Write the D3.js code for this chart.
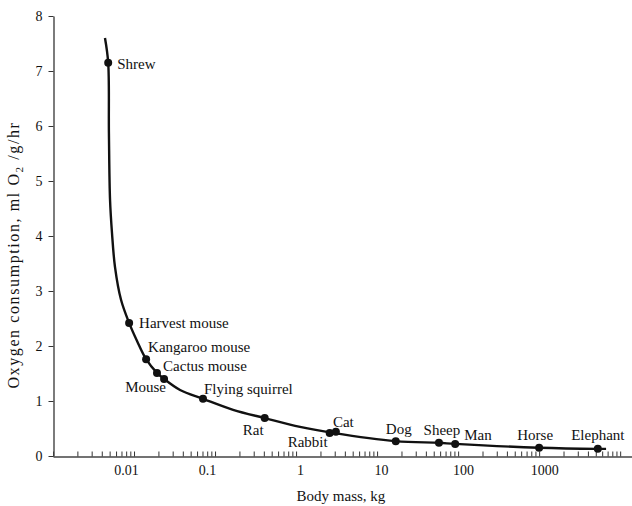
<!DOCTYPE html>
<html>
<head>
<meta charset="utf-8">
<script src="https://cdn.jsdelivr.net/npm/d3@7"></script>
<style>
  html, body { margin: 0; padding: 0; background: #fff; }
  svg { display: block; font-family: "Liberation Serif", "Times New Roman", serif; }
</style>
</head>
<body>
<svg id="chart" width="632" height="506"></svg>
<script>
// animals plotted as dots (mass in kg, O2 in ml/g/hr)
const animals = ['Shrew', 'Harvest mouse', 'Kangaroo mouse', 'Mouse', 'Cactus mouse',
  'Flying squirrel', 'Rat', 'Rabbit', 'Cat', 'Dog', 'Sheep', 'Man', 'Horse', 'Elephant'];
const animalMass = [0.0048, 0.0087, 0.0141, 0.0192, 0.0235, 0.071, 0.41, 2.6, 3.1, 17, 58, 92, 1000, 5300];
const animalO2 = [7.15, 2.42, 1.76, 1.51, 1.40, 1.04, 0.69, 0.42, 0.44, 0.27, 0.24, 0.22, 0.15, 0.13];

// the drawn curve
const curveMass = [0.00438, 0.0048, 0.0049, 0.00506, 0.00535, 0.00582, 0.00691, 0.0087, 0.0109,
  0.0141, 0.0192, 0.0235, 0.037, 0.071, 0.167, 0.41, 1.12, 2.86, 17, 58, 92, 1000, 5300, 6700];
const curveO2 = [7.6, 7.15, 5.87, 4.65, 4.05, 3.44, 2.84, 2.42, 2.09,
  1.76, 1.51, 1.40, 1.20, 1.04, 0.84, 0.69, 0.53, 0.42, 0.27, 0.24, 0.22, 0.15, 0.13, 0.13];

const massTicks = [0.01, 0.1, 1, 10, 100, 1000];
const massTickLabels = ['0.01', '0.1', '1', '10', '100', '1000'];
const o2Ticks = [0, 1, 2, 3, 4, 5, 6, 7, 8];

// small horizontal nudges of the decade labels, as printed
const tickLabelDx = [-8, -8, 4, 4, 5, 5];

// label placement relative to each dot
const labelLayout = {
  'Shrew':           { anchor: 'start',  dx: 9,  dy: 6 },
  'Harvest mouse':   { anchor: 'start',  dx: 10, dy: 5 },
  'Kangaroo mouse':  { anchor: 'start',  dx: 2,  dy: -7 },
  'Mouse':           { anchor: 'end',    dx: 9,  dy: 19 },
  'Cactus mouse':    { anchor: 'start',  dx: -1, dy: -8 },
  'Flying squirrel': { anchor: 'start',  dx: 1,  dy: -5 },
  'Rat':             { anchor: 'end',    dx: -1, dy: 17 },
  'Rabbit':          { anchor: 'end',    dx: -2, dy: 14 },
  'Cat':             { anchor: 'start',  dx: -3, dy: -5 },
  'Dog':             { anchor: 'middle', dx: 3,  dy: -7 },
  'Sheep':           { anchor: 'middle', dx: 3,  dy: -8 },
  'Man':             { anchor: 'start',  dx: 9,  dy: -4 },
  'Horse':           { anchor: 'middle', dx: -4, dy: -8 },
  'Elephant':        { anchor: 'middle', dx: 0,  dy: -9 }
};

const svg = d3.select('#chart');
const ink = '#111';

const x = d3.scaleLog().domain([0.001, 14000]).range([53, 632]);
const y = d3.scaleLinear().domain([0, 8]).range([456, 16]);

const decadeIndex = d => massTicks.findIndex(t => Math.abs(t - d) / t < 1e-6);

// x axis: minor ticks at every 1..9 multiple, labels only on decades
const xAxis = d3.axisBottom(x)
  .tickValues(x.ticks())
  .tickSizeInner(-5)
  .tickSizeOuter(0)
  .tickPadding(9)
  .tickFormat(d => {
    const i = decadeIndex(d);
    return i >= 0 ? massTickLabels[i] : '';
  });

const gx = svg.append('g')
  .attr('transform', 'translate(0,456.5)')
  .call(xAxis);
gx.select('.domain').attr('stroke', '#444').attr('stroke-width', 1.4);
gx.selectAll('.tick line').attr('stroke', '#333').attr('stroke-width', 1);
gx.selectAll('.tick text')
  .attr('fill', ink)
  .attr('dx', d => {
    const i = decadeIndex(d);
    return i >= 0 ? tickLabelDx[i] : 0;
  })
  .style('font-size', '14px')
  .style('font-family', '"Liberation Serif", serif');

const yAxis = d3.axisLeft(y)
  .tickValues(o2Ticks)
  .tickSizeInner(5)
  .tickSizeOuter(0)
  .tickPadding(6)
  .tickFormat(d3.format('d'));

const gy = svg.append('g')
  .attr('transform', 'translate(53.5,0)')
  .call(yAxis);
gy.select('.domain').attr('stroke', '#444').attr('stroke-width', 1.4);
gy.selectAll('.tick line').attr('stroke', '#333').attr('stroke-width', 1);
gy.selectAll('.tick text')
  .attr('fill', ink)
  .style('font-size', '14px')
  .style('font-family', '"Liberation Serif", serif');

// axis titles
svg.append('text')
  .attr('x', 341)
  .attr('y', 501)
  .attr('text-anchor', 'middle')
  .attr('fill', ink)
  .style('font-size', '15px')
  .text('Body mass, kg');

const yTitle = svg.append('text')
  .attr('transform', 'translate(19,255) rotate(-90)')
  .attr('text-anchor', 'middle')
  .attr('fill', ink)
  .style('font-size', '16px')
  .style('letter-spacing', '1.6px');
yTitle.append('tspan').text('Oxygen consumption, ml O');
yTitle.append('tspan').attr('dy', 4).style('font-size', '11px').text('2');
yTitle.append('tspan').attr('dy', -4).text(' /g/hr');

// curve
const curvePts = curveMass.map((m, i) => [x(m), y(curveO2[i])]);
svg.append('path')
  .attr('d', d3.line().curve(d3.curveCatmullRom.alpha(0.5))(curvePts))
  .attr('fill', 'none')
  .attr('stroke', ink)
  .attr('stroke-width', 2.4)
  .attr('stroke-linejoin', 'round');

// dots + labels
const pts = animals.map((name, i) => ({ name, mass: animalMass[i], o2: animalO2[i] }));

svg.append('g').selectAll('circle')
  .data(pts)
  .join('circle')
  .attr('cx', d => x(d.mass))
  .attr('cy', d => y(d.o2))
  .attr('r', 4)
  .attr('fill', ink);

svg.append('g').selectAll('text')
  .data(pts)
  .join('text')
  .attr('x', d => x(d.mass) + labelLayout[d.name].dx)
  .attr('y', d => y(d.o2) + labelLayout[d.name].dy)
  .attr('text-anchor', d => labelLayout[d.name].anchor)
  .attr('fill', ink)
  .style('font-size', '15px')
  .text(d => d.name);
</script>
</body>
</html>
